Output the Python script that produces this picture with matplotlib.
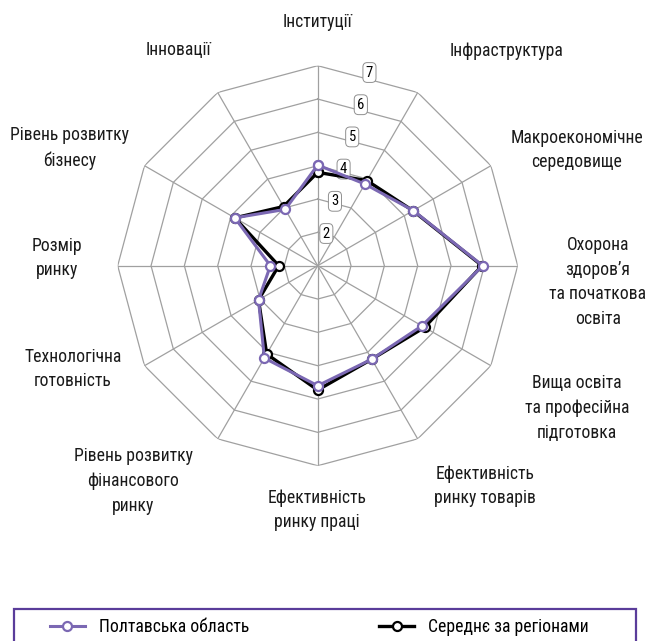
import numpy as np
import matplotlib
matplotlib.use('Agg')
import matplotlib.pyplot as plt
from matplotlib.patches import Rectangle

plt.rcParams['font.family'] = ['Roboto Condensed', 'DejaVu Sans']

categories = [
    'Інституції', 'Інфраструктура', 'Макроекономічне\nсередовище',
    'Охорона\nздоров’я\nта початкова\nосвіта', 'Вища освіта\nта професійна\nпідготовка',
    'Ефективність\nринку товарів', 'Ефективність\nринку праці',
    'Рівень розвитку\nфінансового\nринку', 'Технологічна\nготовність',
    'Розмір\nринку', 'Рівень розвитку\nбізнесу', 'Інновації',
]
poltava = [4.02, 3.83, 4.31, 5.95, 4.61, 4.24, 4.60, 4.20, 3.05, 2.42, 3.87, 2.95]
average = [3.80, 3.95, 4.30, 5.93, 4.70, 4.24, 4.73, 4.06, 3.05, 2.17, 3.87, 3.05]
ring_ticks = [2, 3, 4, 5, 6, 7]
series_names = ['Полтавська область', 'Середнє за регіонами']

# label centres in pixels (x, y from top)
label_pos = [(317, 22), (507, 51), (577, 150), (598, 282), (577, 408), (485, 486),
             (317, 510), (133, 481), (73, 369), (57, 258), (70, 148), (178, 50)]

PURPLE = '#7b68b3'
FRAME = '#5a3c9a'
GRID = '#a0a0a0'

W, H = 650, 641
fig = plt.figure(figsize=(W / 100, H / 100), dpi=100)
cx, cy, R = 317.7, 265.7, 200
ax = fig.add_axes([(cx - R) / W, (H - cy - R) / H, 2 * R / W, 2 * R / H], projection='polar')
ax.set_theta_zero_location('N')
ax.set_theta_direction(-1)
ax.set_ylim(1, 7)
ax.grid(False)
ax.spines['polar'].set_visible(False)
ax.set_xticks([])
ax.set_yticks([])
ax.patch.set_alpha(0)

n = len(categories)
theta = np.linspace(0, 2 * np.pi, n, endpoint=False)
theta_c = np.append(theta, theta[0])

# polygon grid
for v in ring_ticks:
    ax.plot(theta_c, [v] * (n + 1), color=GRID, lw=0.9, zorder=1)
for t in theta:
    ax.plot([t, t], [1, 7], color=GRID, lw=0.9, zorder=1)

for v in ring_ticks:
    ax.text(np.pi / 12, v, str(v), ha='center', va='center', fontsize=10.5, zorder=2,
            bbox=dict(boxstyle='round,pad=0.2,rounding_size=0.3', fc='white', ec='#909090', lw=0.7))

ax.plot(theta_c, np.append(average, average[0]), color='black', lw=2.4, marker='o',
        ms=6.5, mfc='white', mec='black', mew=1.6, zorder=3, label=series_names[1])
ax.plot(theta_c, np.append(poltava, poltava[0]), color=PURPLE, lw=2.2, marker='o',
        ms=6.5, mfc='white', mec=PURPLE, mew=1.6, zorder=4, label=series_names[0])

for lab, (px, py) in zip(categories, label_pos):
    fig.text(px / W, 1 - py / H, lab, ha='center', va='center', fontsize=12.7,
             linespacing=1.48, color='#1a1a1a')

# legend
fig.patches.append(Rectangle((14 / W, -0.02), 622 / W, 0.02 + (H - 609) / H,
                             transform=fig.transFigure, fill=False, ec=FRAME, lw=1.6))
h, l = ax.get_legend_handles_labels()
fig.legend(h[::-1], l[::-1], loc='center left', bbox_to_anchor=(41 / W, 1 - 627 / H),
           ncol=2, frameon=False, fontsize=12.7, handlelength=2.0, handletextpad=0.8,
           columnspacing=7.35, borderpad=0)

fig.savefig('out.png', dpi=100, facecolor='white')
